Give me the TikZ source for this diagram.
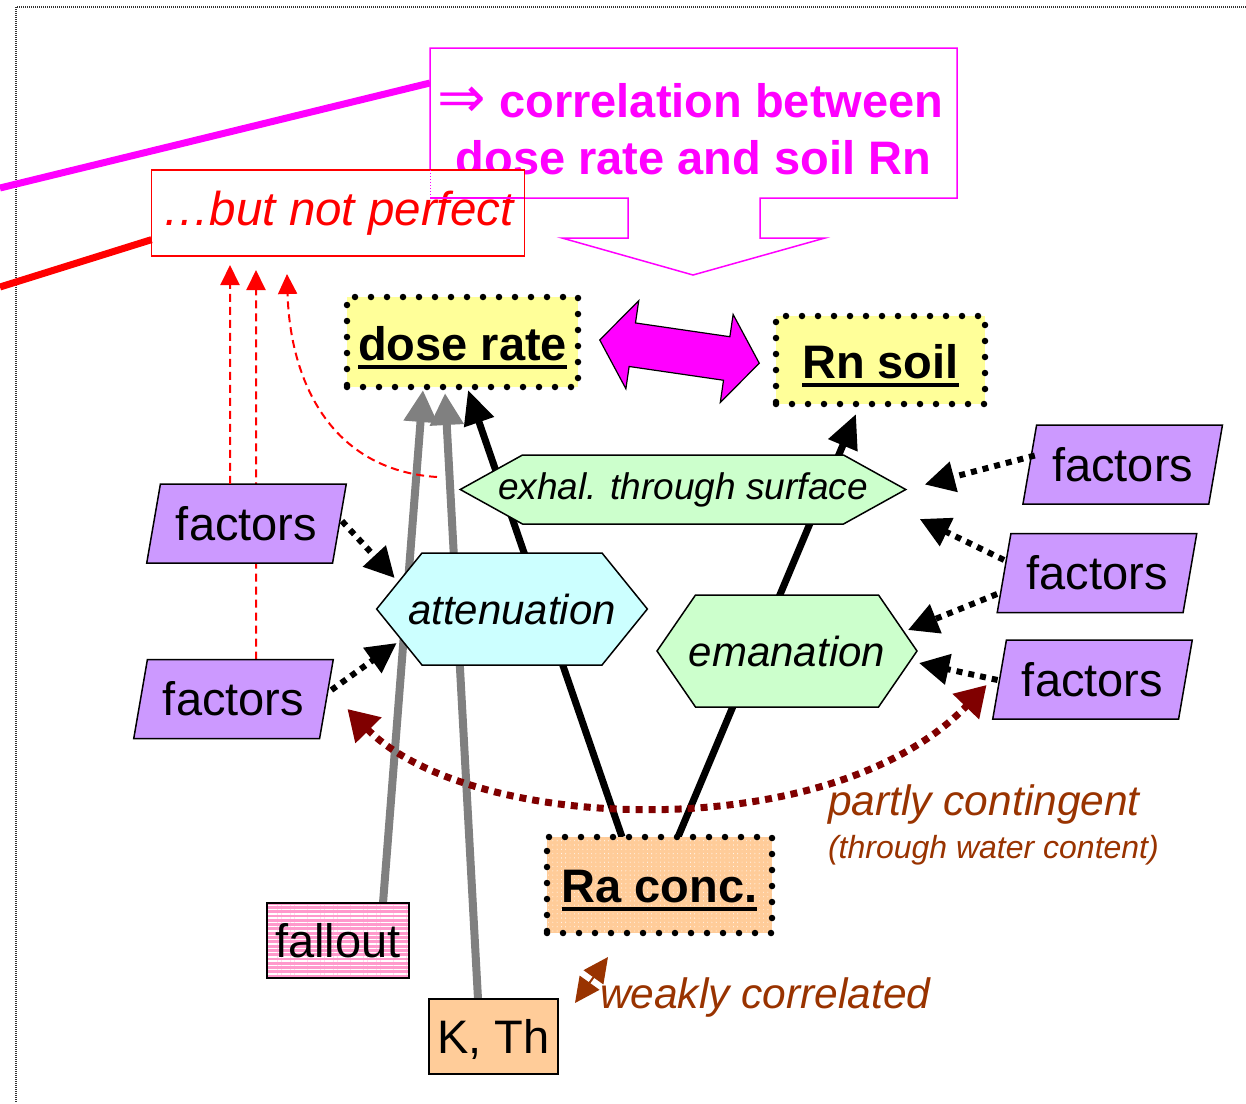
\documentclass[tikz,border=0pt]{standalone}
\usepackage{fontspec}
\setmainfont{Liberation Sans}
\newfontfamily\arrowfont{DejaVu Sans}
\usetikzlibrary{arrows.meta,shapes.geometric,shapes.symbols,patterns.meta,calc}
\pgfdeclarelayer{back}
\pgfsetlayers{back,main}

\definecolor{doseyellow}{HTML}{FFFF99}
\definecolor{raorange}{HTML}{FFCC99}
\definecolor{falloutpink}{HTML}{FF99CC}
\definecolor{factorpurple}{HTML}{CC99FF}
\definecolor{attcyan}{HTML}{CCFFFF}
\definecolor{procgreen}{HTML}{CCFFCC}
\definecolor{corrmag}{HTML}{FF00FF}
\definecolor{contred}{HTML}{800000}
\definecolor{notebrown}{HTML}{993300}
\definecolor{flowgray}{HTML}{808080}

% underlined word with a heavy rule
\newcommand\ulword[1]{\sbox0{#1}\rlap{\rule[-9pt]{\wd0}{4.5pt}}\usebox0}
% process label that may reach into the pointed ends
\newcommand\proclabel[2]{\makebox[#1][c]{#2}}

\tikzset{
  every node/.style={outer sep=0pt},
  quantity/.style={rectangle, inner sep=0pt, draw=black, line width=6.5pt,
    dash pattern=on 0pt off 16pt, line cap=round,
    font=\fontsize{47}{56}\selectfont\bfseries, text height=40pt, text depth=4pt},
  factorbox/.style={trapezium, trapezium left angle=72, trapezium right angle=108,
    trapezium stretches=true, minimum width=200pt, minimum height=79pt,
    fill=factorpurple, draw=black, line width=1.5pt, inner sep=0pt,
    font=\fontsize{47}{56}\selectfont},
  process/.style={signal, signal to=east and west, draw=black, line width=1.5pt,
    inner sep=0pt, font=\fontsize{42}{50}\selectfont\itshape},
  source/.style={rectangle, draw=black, line width=1.5pt, inner sep=0pt,
    font=\fontsize{47}{56}\selectfont},
  stripes/.style={preaction={fill=#1}, pattern={Lines[distance=4.3pt,line width=1.4pt]},
    pattern color=white},
  grayflow/.style={draw=flowgray, line width=8pt, -{Triangle[length=32pt,width=32pt]}},
  blackflow/.style={draw=black, line width=7pt, -{Triangle[length=34pt,width=30pt]}},
  influence/.style={draw=black, line width=6pt, dash pattern=on 6pt off 6pt,
    -{Triangle[length=30pt,width=30pt]}},
  limit/.style={draw=red, line width=2pt, dash pattern=on 8pt off 5pt,
    -{Triangle[length=20pt,width=19pt]}},
  contingent/.style={draw=contred, line width=7pt, dash pattern=on 7pt off 6pt,
    arrows={Triangle[length=30pt,width=35pt]-Triangle[length=30pt,width=35pt]}},
  weakmark/.style={draw=notebrown, fill=notebrown, line width=2pt,
    arrows={Triangle[length=25pt,width=24pt]-Triangle[length=25pt,width=24pt]}},
  note/.style={anchor=base west, inner sep=0pt, text=notebrown},
}

\begin{document}
\begin{tikzpicture}[x=1pt,y=-1pt]
\useasboundingbox (0,0) rectangle (1246,1103);
\begin{pgfonlayer}{back}
  \fill[white] (0,0) rectangle (1246,1103);
\end{pgfonlayer}

% slide frame
\draw[black!80, line width=1.2pt, dash pattern=on 1pt off 1pt] (1246,7) -- (16,7) -- (16,1103);

% correlation call-out with its downward arrow
\draw[corrmag, line width=1.5pt, fill=white]
  (628,198) -- (430,198) -- (430,48) -- (957,48) -- (957,198) -- (760,198)
  -- (760,238) -- (825,238) -- (693,275) -- (562,238) -- (628,238) -- cycle;
\node[anchor=base, inner sep=0pt, text=corrmag, font=\fontsize{47}{56}\selectfont\bfseries]
  (corrA) at (690.5,117) {{\arrowfont\mdseries\fontsize{58}{58}\selectfont ⇒} correlation between};
\node[anchor=base, inner sep=0pt, text=corrmag, font=\fontsize{47}{56}\selectfont\bfseries]
  (corrB) at (693.5,174) {dose rate and soil Rn};
\coordinate (calloutwest) at (430,83);
\coordinate (magsrc) at (0,188);
\draw[corrmag, line width=7pt] (magsrc) -- (calloutwest);

% "but not perfect" box
\node[draw=red, line width=1.5pt, fill=white, minimum width=373, minimum height=86,
  inner sep=0pt, text=red, font=\fontsize{47.5}{56}\selectfont\itshape]
  (notperfect) at (338,213) {…but not perfect};
\draw[corrmag, line width=1.2pt] (430,198) -- (524,198);
\draw[corrmag, line width=1pt, dash pattern=on 1pt off 2pt] (430,170) -- (430,198);
\coordinate (redsrc) at (0,287);
\draw[red, line width=7pt] (redsrc) -- ($(notperfect.north west)!0.81!(notperfect.south west)$);

% measured quantities
\node[quantity, fill=doseyellow, minimum width=231, minimum height=90] (dose) at (462.5,342) {\ulword{dose rate}};
\node[quantity, fill=doseyellow, minimum width=209, minimum height=88] (rn) at (880.5,360) {\ulword{Rn soil}};
\node[quantity, stripes=raorange, minimum width=225, minimum height=96, text height=38pt] (ra) at (659.5,885) {\ulword{Ra conc.}};

% sources
\node[source, stripes=falloutpink, minimum width=142, minimum height=75] (fallout) at (338,940.5) {fallout};
\node[source, fill=raorange, minimum width=129, minimum height=75, text depth=0pt] (kth) at (493.5,1036.5) {K, Th};

% processes
\node[process, fill=procgreen, minimum height=69, signal pointer angle=58,
  font=\fontsize{37}{44}\selectfont\itshape] (exhal) at (683,489.5) {\proclabel{321pt}{exhal. through surface}};
\node[process, fill=attcyan, minimum height=112, signal pointer angle=102] (atten) at (512,609) {\proclabel{180pt}{attenuation}};
\node[process, fill=procgreen, minimum height=112, signal pointer angle=111] (eman) at (787,651) {\proclabel{183pt}{emanation}};

% influencing factors
\node[factorbox] (fa) at (246.5,523.5) {factors};
\node[factorbox] (fb) at (233.5,699) {factors};
\node[factorbox] (fc) at (1122.7,464.5) {factors};
\node[factorbox] (fd) at (1097,573) {factors};
\node[factorbox] (fe) at (1092.5,679.5) {factors};

% correlation arrow between dose rate and soil radon
\begin{scope}[shift={(679.5,351.6)}, rotate=-8.3]
  \filldraw[fill=corrmag, draw=black, line width=1.2pt]
    (-80.6,0) -- (-47.7,-44.5) -- (-47.7,-22) -- (47.7,-22) -- (47.7,-44.5)
    -- (80.6,0) -- (47.7,44.5) -- (47.7,22) -- (-47.7,22) -- (-47.7,44.5) -- cycle;
\end{scope}

% flows running behind the process shapes
\begin{pgfonlayer}{back}
  \draw[grayflow] ($(fallout.north)+(45,0)$) -- ($(dose.south)+(-39.5,3)$);
  \draw[grayflow] ($(kth.north)+(-15.5,0)$) -- ($(dose.south)+(-17.5,6)$);
  \draw[blackflow] ($(ra.north)+(-37.5,0)$) -- ($(dose.south)+(5.5,3)$);
  \draw[blackflow] ($(ra.north)+(18.5,0)$) -- ($(rn.south)+(-24.5,10)$);
  \draw[limit] ($(fb.north)+(22.5,0)$) -- ($(notperfect.south west)+(104.5,14)$);
\end{pgfonlayer}

% limits of the correlation
\draw[limit] ($(fa.north)+(-16.5,0)$) -- ($(notperfect.south west)+(78.5,9)$);
\coordinate (limitsrc) at (437,477);
\draw[limit] (limitsrc) .. controls (330,470) and (290,380) .. ($(notperfect.south west)+(135.5,18)$);

% factors acting on the processes
\draw[influence] ($(fa.east)+(2.5,-2.5)$) -- ($(atten.west)+(18,-31)$);
\draw[influence] ($(fb.east)+(5,-9)$) -- ($(atten.west)+(20,34)$);
\draw[influence] ($(fc.west)+(5,-9)$) -- ($(exhal.east)+(19,-5)$);
\draw[influence] ($(fd.west)+(0,-13)$) -- ($(exhal.east)+(14,29.5)$);
\draw[influence] ($(fd.west)+(-7,21)$) -- ($(eman.east)+(-9,-21)$);
\draw[influence] ($(fe.west)+(-2,0.5)$) -- ($(eman.east)+(2,12)$);

% partly contingent factors
\draw[contingent] ($(fb.east)+(21,10)$) .. controls (470,833) and (830,848) .. ($(fe.west)+(-13,5.5)$);
\node[note, font=\fontsize{42.5}{50}\selectfont\itshape] (partly) at (828,815) {partly contingent};
\node[note, font=\fontsize{32}{38}\selectfont\itshape] (water) at (828,858) {(through water content)};

% weak correlation marker
\coordinate (wkA) at (575,1003);
\coordinate (wkB) at (608,957);
\draw[weakmark] (wkA) -- (wkB);
\node[note, font=\fontsize{42.5}{50}\selectfont\itshape] (weakly) at (600,1008) {weakly correlated};
\end{tikzpicture}
\end{document}
